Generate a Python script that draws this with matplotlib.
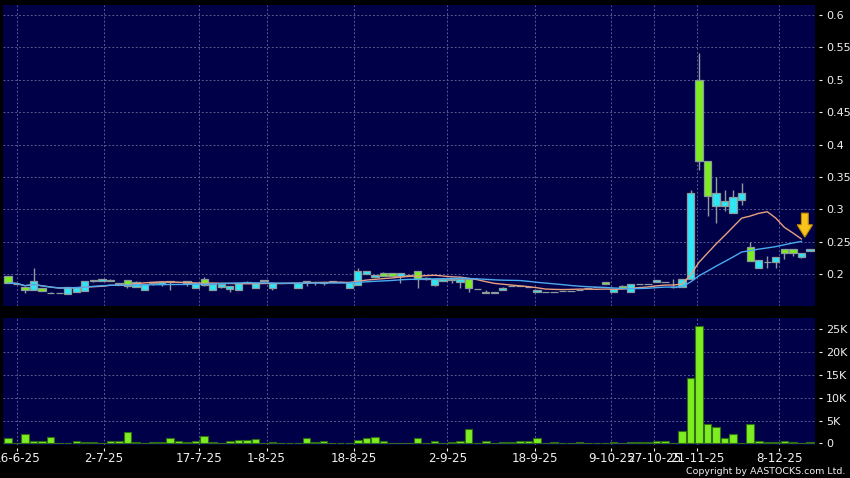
import matplotlib

matplotlib.use("Agg")

import matplotlib.pyplot as plt
import pandas as pd
from matplotlib.patches import FancyArrow
from matplotlib.ticker import FuncFormatter


# daily candles, oldest first (HKD)
opens = [
    0.197, 0.185, 0.180, 0.175, 0.179, 0.170, 0.170, 0.169, 0.172, 0.174,
    0.189, 0.189, 0.189, 0.184, 0.191, 0.180, 0.175, 0.186, 0.184, 0.190,
    0.187, 0.190, 0.179, 0.193, 0.175, 0.180, 0.177, 0.176, 0.186, 0.179,
    0.189, 0.179, 0.186, 0.186, 0.179, 0.190, 0.187, 0.186, 0.187, 0.187,
    0.179, 0.183, 0.200, 0.196, 0.202, 0.201, 0.197, 0.199, 0.204, 0.193,
    0.183, 0.189, 0.191, 0.188, 0.192, 0.177, 0.173, 0.170, 0.176, 0.181,
    0.182, 0.180, 0.172, 0.173, 0.173, 0.174, 0.174, 0.176, 0.178, 0.180,
    0.187, 0.173, 0.182, 0.173, 0.184, 0.184, 0.187, 0.188, 0.180, 0.180,
    0.192, 0.500, 0.375, 0.305, 0.305, 0.294, 0.314, 0.241, 0.210, 0.218,
    0.218, 0.238, 0.238, 0.227, 0.236,
]
highs = [
    0.197, 0.185, 0.180, 0.209, 0.179, 0.172, 0.170, 0.180, 0.180, 0.190,
    0.191, 0.192, 0.192, 0.186, 0.191, 0.190, 0.184, 0.188, 0.188, 0.190,
    0.187, 0.190, 0.186, 0.196, 0.184, 0.185, 0.181, 0.186, 0.189, 0.186,
    0.191, 0.186, 0.186, 0.186, 0.186, 0.190, 0.187, 0.188, 0.189, 0.187,
    0.187, 0.209, 0.204, 0.198, 0.203, 0.201, 0.201, 0.199, 0.204, 0.195,
    0.194, 0.194, 0.193, 0.194, 0.193, 0.177, 0.175, 0.173, 0.180, 0.183,
    0.182, 0.180, 0.175, 0.173, 0.173, 0.174, 0.174, 0.176, 0.178, 0.180,
    0.187, 0.177, 0.183, 0.184, 0.184, 0.184, 0.191, 0.188, 0.192, 0.193,
    0.330, 0.541, 0.375, 0.350, 0.330, 0.330, 0.340, 0.250, 0.222, 0.228,
    0.226, 0.238, 0.238, 0.233, 0.239,
]
lows = [
    0.186, 0.185, 0.170, 0.175, 0.174, 0.170, 0.170, 0.169, 0.172, 0.174,
    0.188, 0.189, 0.189, 0.184, 0.178, 0.180, 0.175, 0.183, 0.181, 0.176,
    0.187, 0.181, 0.179, 0.181, 0.175, 0.179, 0.173, 0.176, 0.186, 0.179,
    0.189, 0.176, 0.186, 0.186, 0.179, 0.181, 0.183, 0.183, 0.187, 0.187,
    0.179, 0.183, 0.200, 0.196, 0.197, 0.197, 0.186, 0.199, 0.179, 0.191,
    0.182, 0.189, 0.186, 0.178, 0.173, 0.177, 0.170, 0.170, 0.176, 0.181,
    0.181, 0.180, 0.172, 0.173, 0.173, 0.174, 0.174, 0.176, 0.178, 0.180,
    0.185, 0.172, 0.178, 0.172, 0.184, 0.184, 0.187, 0.188, 0.178, 0.180,
    0.192, 0.360, 0.289, 0.279, 0.298, 0.294, 0.307, 0.220, 0.209, 0.210,
    0.210, 0.223, 0.228, 0.224, 0.236,
]
closes = [
    0.186, 0.185, 0.175, 0.189, 0.174, 0.170, 0.170, 0.180, 0.180, 0.190,
    0.191, 0.192, 0.191, 0.186, 0.182, 0.188, 0.184, 0.188, 0.188, 0.187,
    0.187, 0.186, 0.186, 0.183, 0.184, 0.184, 0.181, 0.186, 0.187, 0.186,
    0.191, 0.186, 0.186, 0.186, 0.186, 0.187, 0.187, 0.188, 0.189, 0.187,
    0.187, 0.205, 0.204, 0.198, 0.197, 0.197, 0.201, 0.199, 0.193, 0.194,
    0.193, 0.193, 0.192, 0.193, 0.178, 0.177, 0.171, 0.172, 0.179, 0.182,
    0.181, 0.180, 0.175, 0.173, 0.173, 0.174, 0.174, 0.176, 0.178, 0.180,
    0.185, 0.177, 0.178, 0.184, 0.184, 0.184, 0.191, 0.188, 0.180, 0.193,
    0.325, 0.375, 0.320, 0.325, 0.313, 0.319, 0.325, 0.220, 0.222, 0.218,
    0.226, 0.233, 0.233, 0.233, 0.239,
]
# turnover in thousands of shares
volumes_k = [
    1.24, 0.0, 2.0, 0.44, 0.44, 1.3, 0.0, 0.15, 0.44, 0.2,
    0.3, 0.0, 0.5, 0.6, 2.4, 0.3, 0.0, 0.2, 0.2, 1.17,
    0.44, 0.3, 0.6, 1.6, 0.2, 0.1, 0.5, 0.65, 0.65, 0.95,
    0.05, 0.3, 0.0, 0.05, 0.05, 1.1, 0.3, 0.44, 0.0, 0.0,
    0.05, 0.73, 1.1, 1.4, 0.44, 0.0, 0.05, 0.05, 1.17, 0.0,
    0.5, 0.0, 0.3, 0.5, 3.1, 0.0, 0.5, 0.0, 0.2, 0.4,
    0.5, 0.5, 1.1, 0.0, 0.2, 0.1, 0.0, 0.3, 0.0, 0.0,
    0.05, 0.3, 0.05, 0.3, 0.3, 0.3, 0.5, 0.5, 0.1, 2.6,
    14.4, 25.8, 4.15, 3.6, 1.17, 1.96, 0.05, 4.2, 0.5, 0.3,
    0.2, 0.6, 0.2, 0.05, 0.2,
]
date_ticks = [1.1, 11.2, 22.4, 30.3, 40.5, 51.5, 61.8, 70.7, 75.7, 80.8, 90.4]
date_labels = [
    "16-6-25", "2-7-25", "17-7-25", "1-8-25", "18-8-25", "2-9-25",
    "18-9-25", "9-10-25", "27-10-25", "21-11-25", "8-12-25",
]
price_ticks = [0.2, 0.25, 0.3, 0.35, 0.4, 0.45, 0.5, 0.55, 0.6]
volume_ticks = [0, 5, 10, 15, 20, 25]
ma_windows = [10, 20]

FIG_BG = "black"
PANEL_BG = "#000048"
GRID = "#5a5a8e"
UP = "#2ee6f6"
DOWN = "#7ded22"
CANDLE_EDGE = "#8c9c9c"
MA_COLORS = ["#e8a080", "#4aaaf0"]
TEXT = "#f0f0f0"
XLIM = (-0.53, 94.6)


def style_panel(ax) -> None:
    ax.set_facecolor(PANEL_BG)
    for spine in ax.spines.values():
        spine.set_visible(False)
    ax.spines["right"].set_position(("outward", 3))
    ax.spines["bottom"].set_position(("outward", 2))
    ax.yaxis.tick_right()
    ax.tick_params(axis="y", colors=TEXT, labelsize=8, length=2.4, width=0.8, pad=2.5)
    ax.set_xticks(date_ticks)
    ax.set_xlim(*XLIM)
    ax.grid(True, color=GRID, linestyle=(0, (2, 2)), linewidth=0.7)
    ax.set_axisbelow(True)


def draw_price(ax) -> None:
    idx = list(range(len(closes)))
    colors = [UP if c >= o else DOWN for o, c in zip(opens, closes)]
    ax.vlines(idx, lows, highs, color=CANDLE_EDGE, linewidth=1.0, zorder=2)
    bottoms = [min(o, c) for o, c in zip(opens, closes)]
    heights = [abs(c - o) for o, c in zip(opens, closes)]
    ax.bar(idx, heights, bottom=bottoms, width=0.86, color=colors,
           edgecolor=CANDLE_EDGE, linewidth=0.9, zorder=3)

    # moving averages stop at the previous session, as on the source chart
    past = pd.Series(closes[:-1])
    for window, color in zip(ma_windows, MA_COLORS):
        ma = past.rolling(window, min_periods=1).mean()
        ax.plot(ma.index, ma.values, color=color, linewidth=1.0, zorder=4)

    ax.add_patch(FancyArrow(93.4, 0.294, 0, -0.037, width=0.8, head_width=1.8,
                            head_length=0.019, length_includes_head=True,
                            facecolor="#f7c51c", edgecolor="#c98a00",
                            linewidth=0.8, zorder=5))

    ax.set_ylim(0.1506, 0.6154)
    ax.set_yticks(price_ticks)
    ax.yaxis.set_major_formatter(FuncFormatter(lambda v, _: f"{v:g}"))
    ax.tick_params(axis="x", length=0, labelbottom=False)


def draw_volume(ax) -> None:
    idx = list(range(len(volumes_k)))
    ax.bar(idx, volumes_k, width=0.88, color=DOWN, edgecolor="#2f6e12",
           linewidth=0.8, zorder=3)
    ax.set_ylim(-0.37, 27.5)
    ax.set_yticks(volume_ticks)
    ax.yaxis.set_major_formatter(FuncFormatter(lambda v, _: "0" if v == 0 else f"{v:g}K"))
    ax.set_xticklabels(date_labels)
    ax.tick_params(axis="x", colors=TEXT, labelsize=8.6, length=2.4, width=0.8, pad=0.5)


def main() -> None:
    fig = plt.figure(figsize=(8.5, 4.78), dpi=100, facecolor=FIG_BG)
    ax_price = fig.add_axes([0.0041, 0.3598, 0.9548, 0.6297])
    ax_vol = fig.add_axes([0.0041, 0.069, 0.9548, 0.2657])
    style_panel(ax_price)
    style_panel(ax_vol)
    draw_price(ax_price)
    draw_volume(ax_vol)
    fig.text(0.994, 0.0146, "Copyright by AASTOCKS.com Ltd.", color=TEXT,
             fontsize=6.8, ha="right", va="center")
    fig.savefig("out.png", dpi=100, facecolor=FIG_BG)
    plt.close(fig)


if __name__ == "__main__":
    main()
